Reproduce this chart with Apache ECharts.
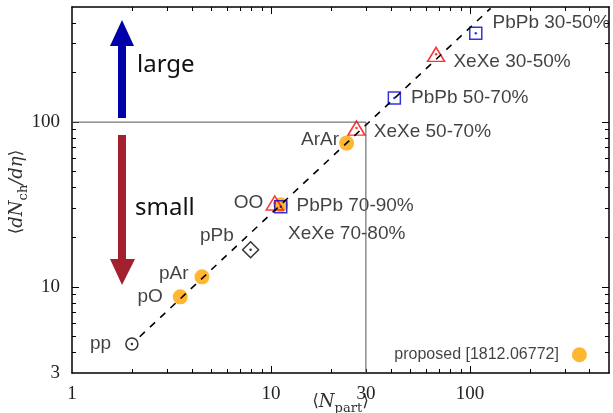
<!DOCTYPE html>
<html>
<head>
<meta charset="utf-8">
<script src="https://cdn.jsdelivr.net/npm/echarts@6/dist/echarts.min.js"></script>
<style>
  html, body { margin: 0; padding: 0; background: #fff; }
  #chart { width: 613px; height: 413px; }
</style>
</head>
<body>
<div id="chart"></div>
<script>
// data
var ppData = [[2.0, 4.5]];
var pPbData = [[7.9, 16.8]];
var xexeData = [[10.45, 32.3], [26.9, 92], [67.6, 258]];
var xexeNames = ['XeXe 70-80%', 'XeXe 50-70%', 'XeXe 30-50%'];
var pbpbData = [[11.2, 30.6], [41.7, 140], [107, 346]];
var pbpbNames = ['PbPb 70-90%', 'PbPb 50-70%', 'PbPb 30-50%'];
var proposedData = [[3.5, 8.7], [4.5, 11.5], [11.2, 31.5], [24, 74.6]];
var proposedNames = ['pO', 'pAr', 'OO', 'ArAr'];
var legendPoint = [[355, 3.87]];
var fitLine = [[2.19, 4.98], [127, 491]];
var refLine = [[1, 100], [30, 100], [30, 3]];

var xTickLabels = [1, 10, 30, 100];
var xMajorTicks = [10, 100];
var xMinorTicks = [2, 3, 4, 5, 6, 7, 8, 9, 20, 30, 40, 50, 60, 70, 80, 90, 200, 300, 400];
var yTickLabels = [3, 10, 100];
var yMajorTicks = [10, 100];
var yMinorTicks = [4, 5, 6, 7, 8, 9, 20, 30, 40, 50, 60, 70, 80, 90, 200, 300, 400];

var labelFont = 'Liberation Sans';
var tickFont = 'Liberation Serif';
var textColor = '#111';

// where each point label sits
var labelPlace = {
    'pp': { position: 'left', distance: 14, offset: [0, 0] },
    'pO': { position: 'left', distance: 10, offset: [0, 0] },
    'pAr': { position: 'left', distance: 6, offset: [0, -3] },
    'OO': { position: 'left', distance: 10, offset: [0, -2] },
    'ArAr': { position: 'left', distance: 0, offset: [0, -3] },
    'pPb': { position: 'left', distance: 8, offset: [0, -14] },
    'XeXe 70-80%': { position: 'right', distance: 4, offset: [0, 31] },
    'XeXe 50-70%': { position: 'right', distance: 8, offset: [0, 4] },
    'XeXe 30-50%': { position: 'right', distance: 8, offset: [0, 7] },
    'PbPb 70-90%': { position: 'right', distance: 9, offset: [0, -1] },
    'PbPb 50-70%': { position: 'right', distance: 10, offset: [0, 0] },
    'PbPb 30-50%': { position: 'right', distance: 10, offset: [0, -11] }
};

function items(data, names) {
    return data.map(function (d, i) {
        var p = labelPlace[names[i]];
        return {
            value: d,
            name: names[i],
            label: {
                show: true,
                formatter: names[i],
                position: p.position,
                distance: p.distance,
                offset: p.offset,
                color: textColor,
                fontSize: 19,
                fontFamily: labelFont
            }
        };
    });
}

function logAxis(pos, min, max, opts) {
    var a = {
        type: 'log',
        logBase: 10,
        position: pos,
        min: min,
        max: max,
        splitLine: { show: false },
        axisLine: { show: opts.line, onZero: false, lineStyle: { color: '#000', width: 1.5 } },
        axisTick: { show: true, inside: true, length: opts.tickLen, customValues: opts.ticks,
            lineStyle: { color: '#000', width: 1 } },
        axisLabel: { show: !!opts.labels }
    };
    if (opts.labels) {
        a.axisLabel = {
            show: true, customValues: opts.labels, margin: 12,
            color: '#222', fontSize: 19, fontFamily: tickFont
        };
    }
    return a;
}

var chart = echarts.init(document.getElementById('chart'), null, { renderer: 'canvas' });

var nameRich = {
    t: { fontFamily: 'DejaVu Serif', fontSize: 17, color: '#333', lineHeight: 26 },
    i: { fontFamily: 'DejaVu Serif', fontStyle: 'italic', fontSize: 18, color: '#333', lineHeight: 26 },
    s: { fontFamily: 'DejaVu Serif', fontSize: 13, color: '#333', lineHeight: 13, verticalAlign: 'bottom' }
};

var xMain = logAxis('bottom', 1, 500, { line: true, tickLen: 7, ticks: xMajorTicks, labels: xTickLabels });
xMain.name = '{t|⟨}{i|N}{s|part}{t|⟩}';
xMain.nameLocation = 'middle';
xMain.nameGap = 16;
xMain.nameMoveOverlap = false;
xMain.nameTextStyle = { rich: nameRich };

var yMain = logAxis('left', 3, 500, { line: true, tickLen: 7, ticks: yMajorTicks, labels: yTickLabels });
yMain.name = '{t|⟨}{i|dN}{s|ch}{i|/dη}{t|⟩}';
yMain.nameLocation = 'middle';
yMain.nameRotate = 90;
yMain.nameGap = 42;
yMain.nameMoveOverlap = false;
yMain.nameTextStyle = { padding: [0, 4, 0, 0], rich: nameRich };

var option = {
    animation: false,
    backgroundColor: '#fff',
    grid: { left: 72, right: 4, top: 7, bottom: 40, containLabel: false, outerBoundsMode: 'none' },
    xAxis: [
        xMain,
        logAxis('bottom', 1, 500, { line: false, tickLen: 4, ticks: xMinorTicks }),
        logAxis('top', 1, 500, { line: true, tickLen: 7, ticks: xMajorTicks }),
        logAxis('top', 1, 500, { line: false, tickLen: 4, ticks: xMinorTicks })
    ],
    yAxis: [
        yMain,
        logAxis('left', 3, 500, { line: false, tickLen: 4, ticks: yMinorTicks }),
        logAxis('right', 3, 500, { line: true, tickLen: 7, ticks: yMajorTicks }),
        logAxis('right', 3, 500, { line: false, tickLen: 4, ticks: yMinorTicks })
    ],
    series: [
        {
            type: 'line', data: refLine, symbol: 'none', silent: true,
            lineStyle: { color: '#555', width: 1 }
        },
        {
            type: 'line', data: fitLine, symbol: 'none', silent: true,
            lineStyle: { color: '#000', width: 1.6, type: [7, 7] }
        },
        {
            type: 'scatter', data: items(proposedData, proposedNames),
            symbol: 'circle', symbolSize: 15,
            itemStyle: { color: '#ffa500' }
        },
        {
            type: 'scatter',
            data: legendPoint.map(function (d) {
                return {
                    value: d,
                    label: {
                        show: true, formatter: 'proposed [1812.06772]', position: 'left', distance: 13,
                        color: textColor, fontSize: 16, fontFamily: labelFont
                    }
                };
            }),
            symbol: 'circle', symbolSize: 15,
            itemStyle: { color: '#ffa500' }
        },
        {
            type: 'scatter', data: items(ppData, ['pp']),
            symbol: 'circle', symbolSize: 12,
            itemStyle: { color: 'rgba(0,0,0,0)', borderColor: '#000', borderWidth: 1.5 }
        },
        {
            type: 'scatter', data: items(pPbData, ['pPb']),
            symbol: 'diamond', symbolSize: 16,
            itemStyle: { color: 'rgba(0,0,0,0)', borderColor: '#000', borderWidth: 1.5 }
        },
        {
            type: 'scatter', data: items(xexeData, xexeNames),
            symbol: 'triangle', symbolSize: [17, 14],
            itemStyle: { color: 'rgba(0,0,0,0)', borderColor: '#f00', borderWidth: 1.5 }
        },
        {
            type: 'scatter', data: items(pbpbData, pbpbNames),
            symbol: 'rect', symbolSize: 12,
            itemStyle: { color: 'rgba(0,0,0,0)', borderColor: '#0000dd', borderWidth: 1.5 }
        },
        // centre dots of the open markers
        { type: 'scatter', data: ppData.concat(pPbData), symbolSize: 2.5, itemStyle: { color: '#000' } },
        { type: 'scatter', data: xexeData, symbolSize: 2.5, itemStyle: { color: '#f00' } },
        { type: 'scatter', data: pbpbData, symbolSize: 2.5, itemStyle: { color: '#0000dd' } }
    ],
    graphic: [
        { type: 'rect', shape: { x: 118, y: 44, width: 8, height: 74 }, style: { fill: '#0000a8' } },
        { type: 'polygon', shape: { points: [[110, 46], [134, 46], [122, 20]] }, style: { fill: '#0000a8' } },
        { type: 'text', left: 137, top: 53, style: { text: 'large', fontSize: 24, fontFamily: 'Noto Sans', fill: '#111' } },
        { type: 'rect', shape: { x: 118, y: 135, width: 8, height: 126 }, style: { fill: '#a3202f' } },
        { type: 'polygon', shape: { points: [[110, 259], [135, 259], [122, 285]] }, style: { fill: '#a3202f' } },
        { type: 'text', left: 135, top: 196, style: { text: 'small', fontSize: 24, fontFamily: 'Noto Sans', fill: '#111' } }
    ]
};

chart.setOption(option);
</script>
</body>
</html>
